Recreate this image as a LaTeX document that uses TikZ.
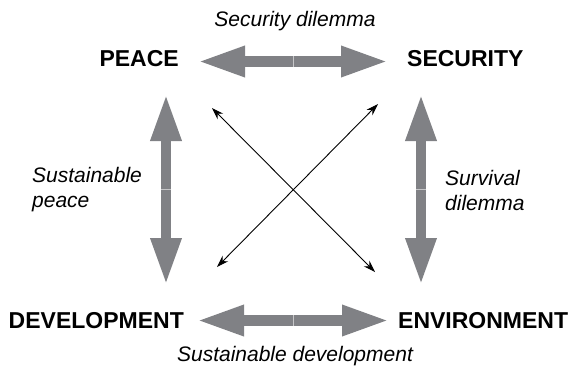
\documentclass[tikz,border=0pt]{standalone}
\usepackage{fontspec}
\setmainfont{Liberation Sans}
\usetikzlibrary{arrows.meta}
\definecolor{ArrowGrey}{RGB}{128,129,133}

\begin{document}
\begin{tikzpicture}[x=1pt,y=-1pt,
  concept/.style={font=\fontsize{23}{28}\selectfont\bfseries,inner sep=0pt},
  relation/.style={font=\fontsize{21}{25}\selectfont\itshape,inner sep=0pt,align=left},
  bigarrow/.style={draw=ArrowGrey,line width=10.5pt,{Triangle[length=47pt,width=28.5pt]}-{Triangle[length=47pt,width=28.5pt]}},
  seam/.style={draw=ArrowGrey!45,line width=0.4pt},
  thinarrow/.style={line width=0.9pt,{Stealth[length=12pt,width=8pt]}-{Stealth[length=12pt,width=8pt]}}]
\useasboundingbox (0,0) rectangle (573,373);
% the four corners
\node[concept,anchor=east] (peace) at (179,58.5) {PEACE};
\node[concept,anchor=west] (security) at (407,58.5) {SECURITY};
\node[concept,anchor=east] (development) at (184,321) {DEVELOPMENT};
\node[concept,anchor=west] (environment) at (398,321) {ENVIRONMENT};
% ends of the big arrows
\coordinate (pe) at (198,61.5);
\coordinate (se) at (388,61.5);
\coordinate (de) at (197,320.5);
\coordinate (ee) at (389,320.5);
\coordinate (pd) at (166,94);
\coordinate (dp) at (166,285);
\coordinate (sv) at (421,94);
\coordinate (vs) at (421,285);
\draw[bigarrow] (pe) -- (se) coordinate[pos=.5] (m1);
\draw[bigarrow] (de) -- (ee) coordinate[pos=.5] (m2);
\draw[bigarrow] (pd) -- (dp) coordinate[pos=.5] (m3);
\draw[bigarrow] (sv) -- (vs) coordinate[pos=.5] (m4);
\draw[seam] (m1) ++(0,-5.25) -- ++(0,10.5);
\draw[seam] (m2) ++(0,-5.25) -- ++(0,10.5);
\draw[seam] (m3) ++(-5.25,0) -- ++(10.5,0);
\draw[seam] (m4) ++(-5.25,0) -- ++(10.5,0);
% the crossing links
\coordinate (x1) at (212,108);
\coordinate (x2) at (375,272);
\coordinate (x3) at (378,104);
\coordinate (x4) at (217,267);
\draw[thinarrow] (x1) -- (x2);
\draw[thinarrow] (x3) -- (x4);
% labels of the relations
\node[relation,anchor=base] (secdil) at (295,26) {Security dilemma};
\node[relation,anchor=base] (susdev) at (295,361) {Sustainable development};
\node[relation,anchor=west] (suspeace) at (32,190) {Sustainable\\peace};
\node[relation,anchor=west] (surdil) at (445,190) {Survival\\dilemma};
\end{tikzpicture}
\end{document}
